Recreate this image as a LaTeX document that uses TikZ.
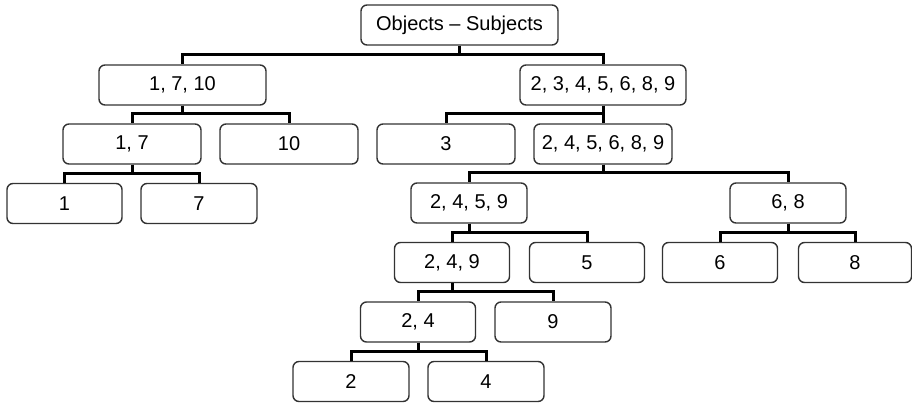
\documentclass[tikz,border=0pt]{standalone}
\usepackage{fontspec}
\setmainfont{Liberation Sans}
\begin{document}
\begin{tikzpicture}[x=1pt,y=-1pt,
  box/.style={draw=black!80,line width=1.4pt,rounded corners=6pt,fill=white,
    minimum height=40pt,inner sep=0pt,font=\fontsize{20}{24}\selectfont},
  conn/.style={draw=black,line width=3pt}]
\useasboundingbox (0,0) rectangle (912,402);
\node[box,minimum width=197pt] (root) at (459.5,25) {Objects – Subjects};
\node[box,minimum width=167pt] (a) at (182.5,85) {1, 7, 10};
\node[box,minimum width=166pt] (b) at (603,85) {2, 3, 4, 5, 6, 8, 9};
\node[box,minimum width=138pt] (a1) at (132,144) {1, 7};
\node[box,minimum width=138pt] (a2) at (289,144) {10};
\node[box,minimum width=138pt] (b1) at (446,144) {3};
\node[box,minimum width=138pt] (b2) at (603,144) {2, 4, 5, 6, 8, 9};
\node[box,minimum width=115pt] (a11) at (64.5,203.5) {1};
\node[box,minimum width=116pt] (a12) at (199,203.5) {7};
\node[box,minimum width=116pt] (b21) at (469,203) {2, 4, 5, 9};
\node[box,minimum width=116pt] (b22) at (788,203) {6, 8};
\node[box,minimum width=115pt] (c1) at (452,262.5) {2, 4, 9};
\node[box,minimum width=115pt] (c2) at (587,262.5) {5};
\node[box,minimum width=115pt] (d1) at (720,262.5) {6};
\node[box,minimum width=113pt] (d2) at (855,262.5) {8};
\node[box,minimum width=115pt] (e1) at (418,322) {2, 4};
\node[box,minimum width=116pt] (e2) at (553,322) {9};
\node[box,minimum width=116pt] (f1) at (351,381.5) {2};
\node[box,minimum width=116pt] (f2) at (486,381.5) {4};
\begin{scope}[on background layer/.style={}]
\foreach \p/\c in {root/a,root/b,a/a1,a/a2,b/b1,b/b2,a1/a11,a1/a12,b2/b21,b2/b22,b21/c1,b21/c2,b22/d1,b22/d2,c1/e1,c1/e2,e1/f1,e1/f2}
  \draw[conn] (\p.south) |- ([yshift=9.5pt]\c.north) -- (\c.north);
\end{scope}
\end{tikzpicture}
\end{document}
